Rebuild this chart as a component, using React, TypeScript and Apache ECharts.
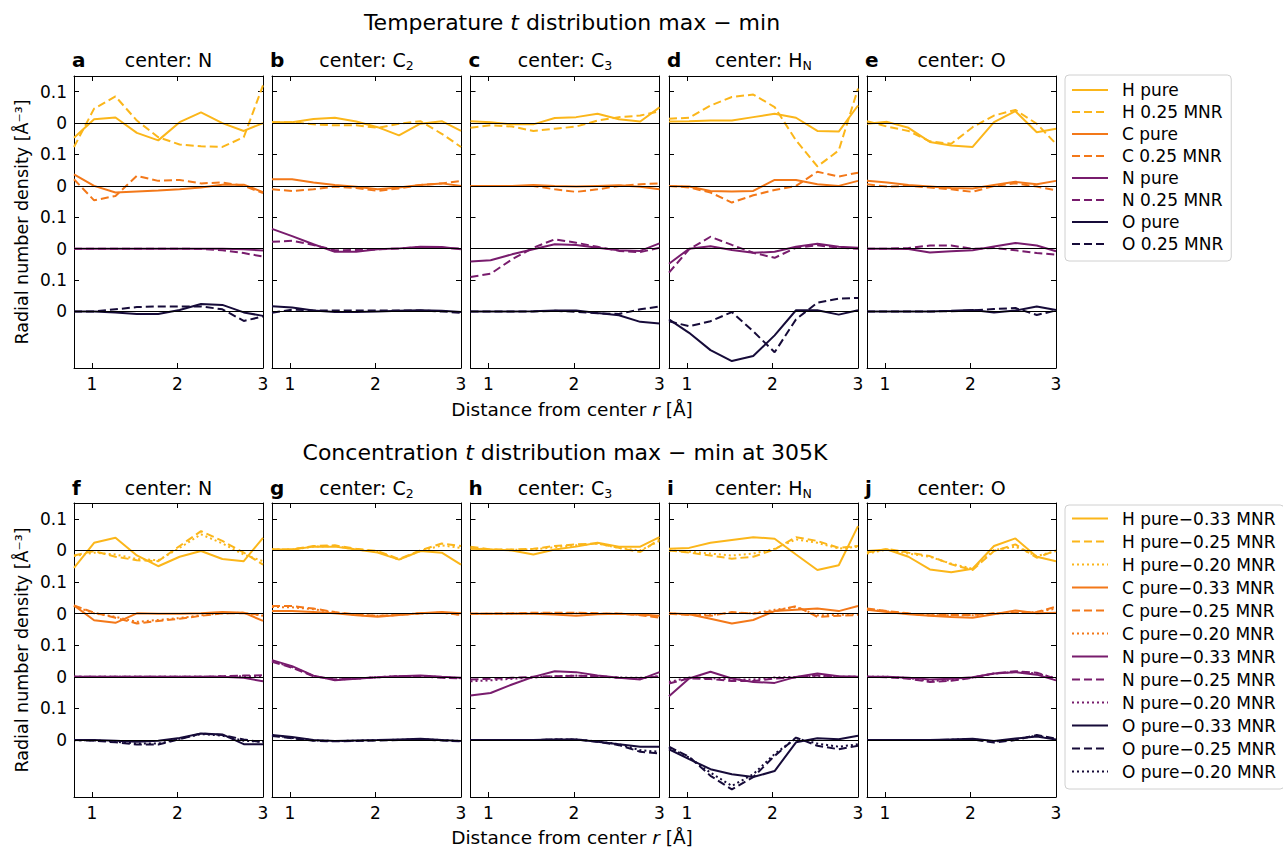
import React, { useEffect, useRef } from 'react';
import * as echarts from 'echarts';

// ---------- data ----------
const R = [0.79, 1.025, 1.275, 1.525, 1.775, 2.025, 2.275, 2.525, 2.775, 3.0];
const X_TICKS = [1, 2, 3];
const Y_TICKS = [0, 0.1, 0.2, 0.3, 0.4, 0.5, 0.6, 0.7];
const ELEMENTS = ['H', 'C', 'N', 'O'];
const OFFSETS = [0.6, 0.4, 0.2, 0];
const TOP_VARIANTS = ['pure', '0.25 MNR'];
const BOTTOM_VARIANTS = ['pure\u22120.33 MNR', 'pure\u22120.25 MNR', 'pure\u22120.20 MNR'];
const PANEL_LETTERS = ['a', 'b', 'c', 'd', 'e', 'f', 'g', 'h', 'i', 'j'];
const PANEL_CENTERS = ['center: N', 'center: C{s|2}', 'center: C{s|3}', 'center: H{s|N}', 'center: O'];

// top row: rows = H pure, H 0.25, C pure, C 0.25, N pure, N 0.25, O pure, O 0.25
const topA = [
  [-0.047, 0.012, 0.018, -0.031, -0.055, 0.003, 0.034, 0.0, -0.025, 0.0],
  [-0.076, 0.046, 0.085, 0.008, -0.045, -0.068, -0.074, -0.076, -0.045, 0.12],
  [0.037, 0.0, -0.021, -0.018, -0.015, -0.011, -0.005, 0.004, 0.004, -0.02],
  [0.021, -0.046, -0.032, 0.032, 0.016, 0.019, 0.008, 0.011, 0.0, -0.023],
  [0, 0, 0, 0, 0, 0, 0, 0, -0.002, -0.006],
  [0, 0, 0, 0, 0, 0, -0.001, -0.005, -0.014, -0.025],
  [0, 0, -0.003, -0.008, -0.008, 0.005, 0.024, 0.021, -0.003, -0.014],
  [0, 0, 0.007, 0.014, 0.016, 0.016, 0.016, 0.007, -0.03, -0.016],
];
const topB = [
  [0.003, 0.003, 0.013, 0.017, 0.005, -0.013, -0.039, -0.002, 0.006, -0.025],
  [0.003, 0.003, -0.004, -0.007, -0.007, -0.015, -0.002, 0.006, -0.034, -0.076],
  [0.021, 0.021, 0.011, 0.003, -0.003, -0.011, -0.005, 0.003, 0.008, 0.0],
  [-0.011, -0.016, -0.011, -0.002, -0.007, -0.016, -0.008, 0.003, 0.008, 0.016],
  [0.063, 0.04, 0.014, -0.01, -0.01, -0.002, 0.001, 0.006, 0.005, -0.002],
  [0.022, 0.025, 0.012, -0.005, -0.004, -0.002, 0.001, 0.005, 0.003, 0.0],
  [0.017, 0.013, 0.003, -0.002, -0.002, 0.0, 0.002, 0.004, 0.002, -0.002],
  [-0.004, 0.006, 0.003, 0.003, 0.003, 0.003, 0.003, 0.003, 0.0, -0.004],
];
const topC = [
  [0.006, 0.003, -0.004, -0.004, 0.016, 0.019, 0.03, 0.012, 0.005, 0.05],
  [-0.015, -0.007, -0.011, -0.025, -0.018, -0.011, 0.008, 0.019, 0.024, 0.038],
  [0, 0, 0, 0.003, 0, -0.002, 0, 0.002, -0.003, -0.011],
  [0, 0, 0, 0, -0.011, -0.019, -0.011, 0, 0.005, 0.008],
  [-0.041, -0.037, -0.018, -0.002, 0.014, 0.012, 0.003, -0.005, -0.007, 0.017],
  [-0.09, -0.08, -0.034, 0.003, 0.03, 0.019, 0.006, -0.007, -0.011, 0.003],
  [0, 0, 0, 0.001, 0.003, 0.003, -0.005, -0.012, -0.033, -0.038],
  [0, 0, 0, 0, 0.002, -0.001, -0.006, -0.008, 0.007, 0.016],
];
const topD = [
  [0.005, 0.006, 0.008, 0.008, 0.019, 0.03, 0.017, -0.025, -0.027, 0.056],
  [0.014, 0.017, 0.056, 0.083, 0.091, 0.051, -0.055, -0.138, -0.087, 0.11],
  [0, -0.002, -0.016, -0.018, -0.016, 0.019, 0.019, 0.005, 0, 0.016],
  [0, -0.005, -0.021, -0.053, -0.03, -0.013, 0, 0.045, 0.03, 0.042],
  [-0.048, 0, 0.008, -0.004, -0.013, -0.01, 0.006, 0.016, 0.006, 0.003],
  [-0.076, -0.002, 0.038, 0.012, -0.013, -0.029, 0.003, 0.011, 0.003, 0],
  [-0.025, -0.068, -0.123, -0.158, -0.142, -0.076, 0.004, 0.004, -0.01, 0.004],
  [-0.031, -0.047, -0.031, -0.002, -0.063, -0.13, -0.025, 0.028, 0.041, 0.043],
];
const topE = [
  [-0.002, 0.004, -0.015, -0.06, -0.071, -0.076, 0.003, 0.038, -0.029, -0.018],
  [0.006, -0.011, -0.025, -0.058, -0.066, -0.013, 0.024, 0.042, -0.002, -0.066],
  [0.016, 0.011, 0.003, -0.002, -0.007, -0.008, 0.003, 0.013, 0.005, 0.016],
  [0.005, -0.002, 0, -0.005, -0.011, -0.019, 0, 0.008, -0.002, -0.014],
  [0, 0, -0.001, -0.012, -0.008, -0.005, 0.007, 0.018, 0.01, -0.008],
  [0, 0, 0.002, 0.01, 0.01, 0, 0.002, -0.005, -0.014, -0.019],
  [0, 0, 0, 0, 0.002, 0.005, -0.003, 0.003, 0.016, 0.005],
  [0, 0, 0, 0, 0.001, 0.003, 0.008, 0.011, -0.011, 0.003],
];

// bottom row: rows = H 0.33, H 0.25, H 0.20, C ..., N ..., O ...
const botF = [
  [-0.055, 0.024, 0.04, -0.016, -0.05, -0.02, -0.002, -0.027, -0.034, 0.04],
  [-0.016, -0.002, -0.02, -0.031, -0.034, 0.014, 0.061, 0.03, -0.007, -0.045],
  [-0.018, -0.007, -0.013, -0.027, -0.031, 0.008, 0.051, 0.022, -0.013, -0.034],
  [0.026, -0.021, -0.029, 0.001, 0, 0, 0.001, 0.005, 0.003, -0.023],
  [0.026, 0.003, -0.013, -0.031, -0.023, -0.016, -0.007, 0.001, 0.001, -0.004],
  [0.024, 0.001, -0.01, -0.026, -0.02, -0.014, -0.005, 0.001, 0.003, -0.007],
  [0, 0, 0, 0, 0, 0, 0, 0, -0.003, -0.014],
  [0, 0, 0, 0, 0, 0, 0, 0.002, 0.004, 0.005],
  [0, 0, 0, 0, 0, 0, 0, 0.001, 0.002, 0.002],
  [0, 0, -0.002, -0.005, -0.002, 0.007, 0.021, 0.018, -0.013, -0.013],
  [0, -0.002, -0.007, -0.014, -0.014, 0.003, 0.021, 0.016, 0.002, -0.007],
  [0, -0.001, -0.005, -0.011, -0.011, 0.004, 0.019, 0.014, -0.002, -0.005],
];
const botG = [
  [0.003, 0.003, 0.012, 0.012, 0.003, -0.007, -0.029, -0.002, -0.007, -0.045],
  [0.003, 0.003, 0.014, 0.016, 0.005, -0.002, -0.027, 0, 0.022, 0.014],
  [0.003, 0.003, 0.012, 0.014, 0.003, -0.004, -0.029, -0.002, 0.016, 0.008],
  [0.008, 0.008, 0.005, 0.001, -0.005, -0.01, -0.004, 0.001, 0.005, 0.001],
  [0.024, 0.024, 0.016, 0.005, -0.003, -0.007, -0.004, 0.001, 0.003, -0.004],
  [0.021, 0.02, 0.014, 0.003, -0.004, -0.007, -0.004, 0.001, 0.003, -0.003],
  [0.053, 0.034, 0.004, -0.011, -0.006, -0.001, 0.002, 0.004, 0, -0.003],
  [0.048, 0.029, 0.002, -0.008, -0.005, -0.001, 0.002, 0.002, -0.003, -0.005],
  [0.05, 0.031, 0.003, -0.009, -0.005, -0.001, 0.002, 0.003, -0.001, -0.004],
  [0.016, 0.01, 0, -0.003, -0.001, 0, 0.002, 0.004, 0, -0.003],
  [0.013, 0.006, -0.002, -0.004, -0.003, -0.001, 0, 0.002, -0.001, -0.004],
  [0.015, 0.007, -0.001, -0.003, -0.002, 0, 0.001, 0.003, 0, -0.003],
];
const botH = [
  [0.005, 0.003, 0, -0.013, 0.003, 0.012, 0.024, 0.012, 0.012, 0.042],
  [0.012, 0.003, 0.003, 0.005, 0.014, 0.019, 0.022, 0.008, -0.005, 0.035],
  [0.009, 0.002, 0.002, 0.003, 0.01, 0.016, 0.022, 0.008, 0, 0.03],
  [0, 0, 0, 0, -0.003, -0.007, -0.002, 0, -0.003, -0.007],
  [0, 0, 0.001, 0.003, 0.003, 0.003, 0.001, 0, -0.005, -0.013],
  [0, 0, 0, 0.001, 0.001, 0.001, 0, 0, -0.003, -0.01],
  [-0.059, -0.051, -0.024, 0, 0.018, 0.015, 0.004, -0.003, -0.008, 0.015],
  [-0.008, -0.006, -0.003, 0, 0.002, 0.004, 0.002, -0.003, -0.005, 0.002],
  [-0.014, -0.011, -0.006, -0.002, 0.002, 0.004, 0.002, -0.002, -0.003, 0.002],
  [0, 0, 0, 0, 0.002, 0.002, -0.005, -0.013, -0.021, -0.021],
  [0, 0, 0, 0, 0.002, 0.002, -0.005, -0.016, -0.037, -0.042],
  [0, 0, 0, 0, 0.002, 0.002, -0.004, -0.013, -0.032, -0.037],
];
const botI = [
  [0.005, 0.008, 0.024, 0.033, 0.042, 0.037, -0.013, -0.062, -0.047, 0.077],
  [0, -0.007, -0.016, -0.026, -0.02, 0.003, 0.042, 0.03, 0.008, 0.014],
  [0, -0.004, -0.01, -0.016, -0.01, 0.005, 0.035, 0.024, 0.006, 0.012],
  [0.001, -0.002, -0.016, -0.031, -0.02, 0.008, 0.012, 0.016, 0.008, 0.024],
  [0, -0.004, -0.007, 0.005, 0, 0.008, 0.024, -0.01, -0.007, -0.004],
  [0, -0.002, -0.004, 0.003, 0.001, 0.012, 0.021, -0.005, -0.004, -0.001],
  [-0.061, -0.005, 0.016, -0.005, -0.016, -0.019, 0, 0.011, 0.002, 0],
  [-0.021, -0.005, -0.007, -0.013, -0.013, -0.005, -0.002, 0.005, 0, 0],
  [-0.016, -0.002, -0.004, -0.008, -0.008, -0.002, 0, 0.003, 0, 0],
  [-0.029, -0.06, -0.092, -0.108, -0.117, -0.098, -0.007, 0.006, 0.003, 0.014],
  [-0.021, -0.053, -0.113, -0.156, -0.117, -0.05, 0.008, -0.018, -0.029, -0.018],
  [-0.024, -0.055, -0.103, -0.145, -0.108, -0.044, 0.006, -0.011, -0.021, -0.013],
];
const botJ = [
  [-0.002, 0.003, -0.02, -0.06, -0.069, -0.058, 0.014, 0.038, -0.02, -0.034],
  [-0.007, 0.005, -0.007, -0.018, -0.044, -0.062, -0.002, 0.019, -0.023, 0],
  [-0.01, 0.003, -0.01, -0.02, -0.042, -0.058, 0.001, 0.012, -0.018, -0.002],
  [0.012, 0.005, -0.002, -0.007, -0.011, -0.013, -0.002, 0.01, 0.001, 0.003],
  [0.016, 0.008, 0.001, -0.005, -0.004, -0.004, 0.001, 0.003, 0.005, 0.022],
  [0.014, 0.007, 0, -0.005, -0.005, -0.005, 0, 0.003, 0.005, 0.016],
  [0, 0, -0.003, -0.008, -0.006, -0.001, 0.011, 0.015, 0.007, -0.011],
  [0, -0.001, -0.006, -0.016, -0.012, -0.003, 0.011, 0.018, 0.013, -0.006],
  [0, 0, -0.004, -0.013, -0.01, -0.002, 0.01, 0.016, 0.011, -0.004],
  [0, 0, 0, 0, 0.002, 0.004, -0.003, 0.005, 0.011, 0.002],
  [0, 0, 0, 0, 0.001, 0.002, -0.008, 0, 0.016, 0.005],
  [0, 0, 0, 0, 0.001, 0.003, -0.005, 0.003, 0.014, 0.004],
];

const TOP_PANELS = [topA, topB, topC, topD, topE];
const BOTTOM_PANELS = [botF, botG, botH, botI, botJ];

// ---------- style ----------
const FONT = "'DejaVu Sans', sans-serif";
const COLORS = ['#fbb61a', '#f37819', '#781c6d', '#160b39'];
const DASHES: any[] = ['solid', [8, 4], [2, 3]];
const GRID_LEFTS = [74, 272, 470.5, 669, 867];
const GRID_W = 189;
const ROW_TOPS = [76, 503];
const ROW_H = [292, 294];
const TICK_FS = 17;

const yFmt = (v: number) => (Math.round(v * 10) % 2 === 1 ? '0.1' : '0');

function txt(x: number, y: number, text: string, extra: any = {}, elExtra: any = {}) {
  return {
    type: 'text',
    x,
    y,
    silent: true,
    ...elExtra,
    style: {
      text,
      fill: '#000',
      fontFamily: FONT,
      fontSize: 18,
      align: 'center',
      verticalAlign: 'middle',
      ...extra,
    },
  };
}

function buildOption() {
  const grid: any[] = [];
  const xAxis: any[] = [];
  const yAxis: any[] = [];
  const series: any[] = [];
  const graphic: any[] = [];

  const allPanels = [...TOP_PANELS, ...BOTTOM_PANELS];
  allPanels.forEach((panel, p) => {
    const row = p < 5 ? 0 : 1;
    const col = p % 5;
    grid.push({ left: GRID_LEFTS[col], top: ROW_TOPS[row], width: GRID_W, height: ROW_H[row] });
    const axLine = { show: true, onZero: false, lineStyle: { color: '#000', width: 1 } };
    const tick = (vals: number[]) => ({
      show: true,
      inside: true,
      length: 5,
      customValues: vals,
      lineStyle: { color: '#000', width: 1 },
    });
    xAxis.push({
      type: 'value', gridIndex: p, min: 0.79, max: 3.0, position: 'bottom',
      axisLine: axLine, axisTick: tick(X_TICKS), splitLine: { show: false },
      axisLabel: { show: true, customValues: X_TICKS, fontSize: TICK_FS, fontFamily: FONT, color: '#000', margin: 7 },
    });
    xAxis.push({
      type: 'value', gridIndex: p, min: 0.79, max: 3.0, position: 'top',
      axisLine: axLine, axisTick: tick(X_TICKS), splitLine: { show: false }, axisLabel: { show: false },
    });
    yAxis.push({
      type: 'value', gridIndex: p, min: -0.18, max: 0.75, position: 'left',
      axisLine: axLine, axisTick: tick(Y_TICKS), splitLine: { show: false },
      axisLabel: {
        show: col === 0, customValues: Y_TICKS, formatter: yFmt,
        fontSize: TICK_FS, fontFamily: FONT, color: '#000', margin: 7,
      },
    });
    yAxis.push({
      type: 'value', gridIndex: p, min: -0.18, max: 0.75, position: 'right',
      axisLine: axLine, axisTick: tick(Y_TICKS), splitLine: { show: false }, axisLabel: { show: false },
    });

    const variants = row === 0 ? TOP_VARIANTS : BOTTOM_VARIANTS;
    ELEMENTS.forEach((el, e) => {
      variants.forEach((vn, v) => {
        const vals = panel[e * variants.length + v];
        const s: any = {
          type: 'line',
          name: `${el} ${vn}`,
          xAxisIndex: 2 * p,
          yAxisIndex: 2 * p,
          symbol: 'none',
          showSymbol: false,
          clip: true,
          emphasis: { disabled: true },
          lineStyle: { color: COLORS[e], width: 2, type: DASHES[v] },
          itemStyle: { color: COLORS[e] },
          data: R.map((x, i) => [x, vals[i] + OFFSETS[e]]),
          z: 3,
        };
        if (v === 0) {
          s.markLine = {
            silent: true,
            symbol: ['none', 'none'],
            label: { show: false },
            lineStyle: { color: '#000', width: 1, type: 'solid' },
            emphasis: { disabled: true },
            data: [{ yAxis: OFFSETS[e] }],
          };
        }
        series.push(s);
      });
    });

    // panel titles
    const left = GRID_LEFTS[col];
    const ty = row === 0 ? 60 : 488;
    graphic.push(txt(left - 2, ty, PANEL_LETTERS[p], { fontWeight: 'bold', fontSize: 20, align: 'left' }));
    graphic.push(
      txt(left + GRID_W / 2, ty, PANEL_CENTERS[col], {
        fontSize: 19,
        lineHeight: 24,
        rich: {
          s: { fontSize: 12.5, lineHeight: 11, verticalAlign: 'bottom', fontFamily: FONT, fill: '#000' },
        },
      })
    );
  });

  const richI = { i: { fontStyle: 'italic', fontFamily: FONT, fill: '#000', fontSize: 22, lineHeight: 28 } };
  graphic.push(txt(572, 22, 'Temperature {i|t} distribution max \u2212 min', { fontSize: 22, lineHeight: 28, rich: richI }));
  graphic.push(txt(565, 452, 'Concentration {i|t} distribution max \u2212 min at 305K', { fontSize: 22, lineHeight: 28, rich: richI }));
  const richR = { i: { fontStyle: 'italic', fontFamily: FONT, fill: '#000', fontSize: 18.5, lineHeight: 22 } };
  graphic.push(txt(572, 409, 'Distance from center {i|r} [\u00c5]', { fontSize: 18.5, lineHeight: 22, rich: richR }));
  graphic.push(txt(572, 837, 'Distance from center {i|r} [\u00c5]', { fontSize: 18.5, lineHeight: 22, rich: richR }));
  graphic.push(txt(22, 222, 'Radial number density [\u00c5\u207b\u00b3]', { fontSize: 17.5 }, { rotation: Math.PI / 2 }));
  graphic.push(txt(22, 650, 'Radial number density [\u00c5\u207b\u00b3]', { fontSize: 17.5 }, { rotation: Math.PI / 2 }));

  const topNames: string[] = [];
  ELEMENTS.forEach((el) => TOP_VARIANTS.forEach((vn) => topNames.push(`${el} ${vn}`)));
  const botNames: string[] = [];
  ELEMENTS.forEach((el) => BOTTOM_VARIANTS.forEach((vn) => botNames.push(`${el} ${vn}`)));

  const legendBase = {
    orient: 'vertical',
    itemWidth: 36,
    itemHeight: 12,
    itemGap: 0,
    borderColor: '#d0d0d0',
    borderWidth: 1,
    borderRadius: 4,
    backgroundColor: '#fff',
    selectedMode: false,
    itemStyle: { color: 'rgba(0,0,0,0)', borderColor: 'rgba(0,0,0,0)', borderWidth: 0, opacity: 0 },
  };
  const legend = [
    {
      ...legendBase,
      left: 1065,
      top: 75,
      padding: [4, 8, 6, 6],
      data: topNames,
      textStyle: { fontSize: 17, fontFamily: FONT, color: '#000', lineHeight: 22, padding: [0, 0, 0, 9] },
    },
    {
      ...legendBase,
      left: 1065,
      top: 505,
      padding: [2, 8, 6, 6],
      data: botNames,
      textStyle: { fontSize: 17, fontFamily: FONT, color: '#000', lineHeight: 23, padding: [0, 0, 0, 9] },
    },
  ];

  return {
    animation: false,
    backgroundColor: '#fff',
    grid,
    xAxis,
    yAxis,
    series,
    legend,
    graphic: { elements: graphic },
  };
}

export default function App() {
  const ref = useRef<HTMLDivElement>(null);
  useEffect(() => {
    if (!ref.current) return;
    const chart = echarts.init(ref.current, undefined, { renderer: 'svg' });
    chart.setOption(buildOption() as any);
    return () => chart.dispose();
  }, []);
  return (
    <div
      ref={ref}
      style={{ position: 'fixed', left: 0, top: 0, width: 1283, height: 847, background: '#fff' }}
    />
  );
}
